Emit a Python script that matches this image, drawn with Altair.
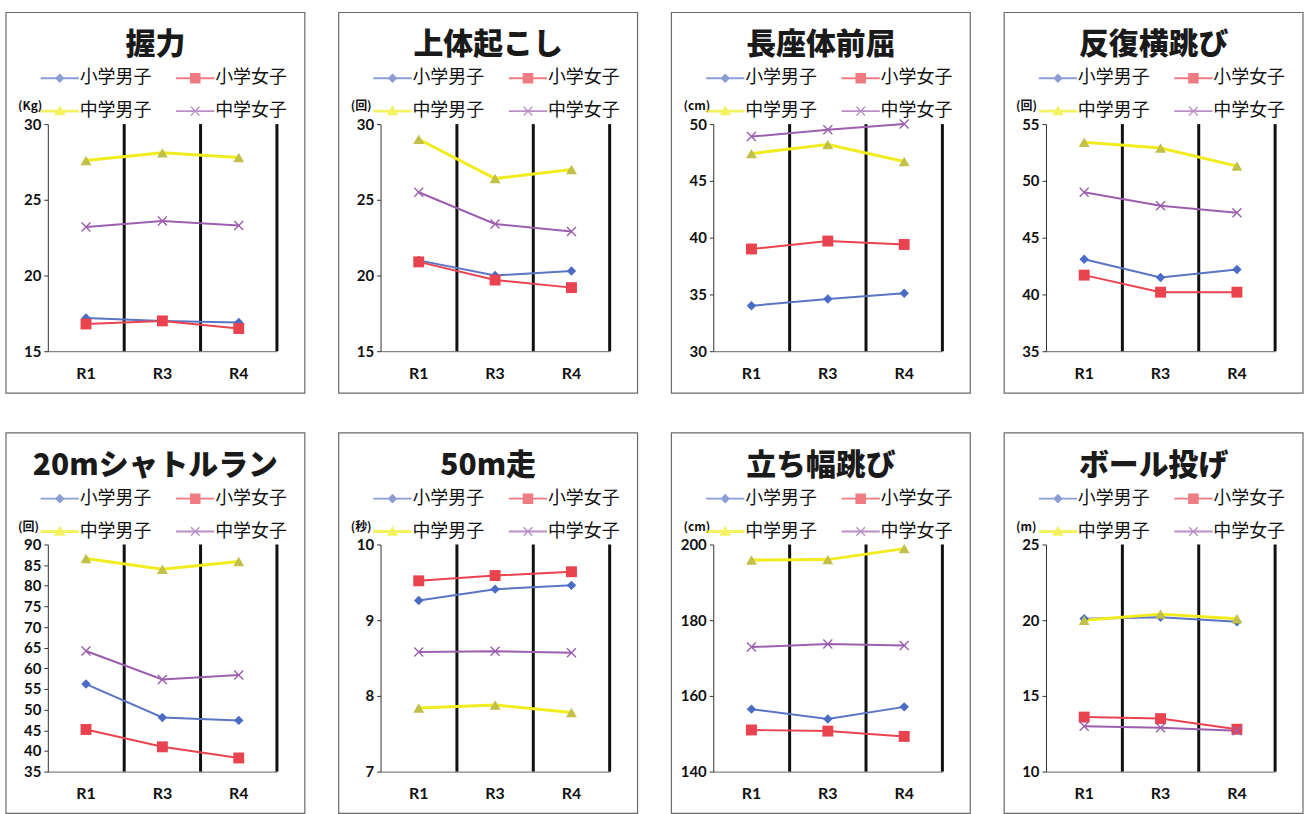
import altair as alt
import pandas as pd

# Rounds on the x axis and the four groups compared in every panel
rounds = ["R1", "R3", "R4"]
series = ["小学男子", "小学女子", "中学男子", "中学女子"]

# One entry per panel
titles = ["握力", "上体起こし", "長座体前屈", "反復横跳び",
          "20mシャトルラン", "50m走", "立ち幅跳び", "ボール投げ"]
units = ["(Kg)", "(回)", "(cm)", "(回)", "(回)", "(秒)", "(cm)", "(m)"]
y_domains = [[15, 30], [15, 30], [30, 50], [35, 55],
             [35, 90], [7, 10], [140, 200], [10, 25]]
y_ticks = [
    [15, 20, 25, 30],
    [15, 20, 25, 30],
    [30, 35, 40, 45, 50],
    [35, 40, 45, 50, 55],
    [35, 40, 45, 50, 55, 60, 65, 70, 75, 80, 85, 90],
    [7, 8, 9, 10],
    [140, 160, 180, 200],
    [10, 15, 20, 25],
]

# Values per group, one [R1, R3, R4] list per panel
elem_boys = [
    [17.2, 17.0, 16.9], [21.0, 20.0, 20.3], [34.0, 34.6, 35.1], [43.1, 41.5, 42.2],
    [56.2, 48.1, 47.4], [9.26, 9.41, 9.46], [156.5, 153.9, 157.1], [20.1, 20.2, 19.9],
]
elem_girls = [
    [16.8, 17.0, 16.5], [20.9, 19.7, 19.2], [39.0, 39.7, 39.4], [41.7, 40.2, 40.2],
    [45.2, 41.0, 38.3], [9.52, 9.59, 9.64], [151.0, 150.7, 149.3], [13.6, 13.5, 12.8],
]
junior_boys = [
    [27.6, 28.1, 27.8], [29.0, 26.4, 27.0], [47.4, 48.2, 46.7], [53.4, 52.9, 51.3],
    [86.6, 84.0, 85.9], [7.84, 7.88, 7.78], [195.9, 196.0, 198.9], [20.0, 20.4, 20.1],
]
junior_girls = [
    [23.2, 23.6, 23.3], [25.5, 23.4, 22.9], [48.9, 49.5, 50.0], [49.0, 47.8, 47.2],
    [64.2, 57.3, 58.4], [8.58, 8.59, 8.57], [172.9, 173.7, 173.3], [13.0, 12.9, 12.7],
]
group_values = [elem_boys, elem_girls, junior_boys, junior_girls]

# Styling of each group
line_colors = ["#5b74c4", "#e8434f", "#f0ec1e", "#9c5fae"]
marker_colors = ["#4a6cc4", "#e8434f", "#c2c049", "#9c5fae"]
line_widths = [2, 2, 3, 2]
x_mark = ("M-1,-0.8L-0.8,-1L0,-0.2L0.8,-1L1,-0.8L0.2,0L1,0.8L0.8,1"
          "L0,0.2L-0.8,1L-1,0.8L-0.2,0Z")
marker_shapes = ["diamond", "square", "triangle-up", x_mark]
marker_sizes = [90, 120, 120, 100]

# Legend symbols: a short line with the marker in the middle
def bar(h):
    return f"M-1.2,-{h}H1.2V{h}H-1.2Z"

legend_paths = [
    bar(0.06) + "M0,-0.3L0.3,0L0,0.3L-0.3,0Z",
    bar(0.06) + "M-0.33,-0.33H0.33V0.33H-0.33Z",
    bar(0.09) + "M0,-0.36L0.36,0.26L-0.36,0.26Z",
    bar(0.06) + "M-0.3,-0.24L-0.24,-0.3L0,-0.06L0.24,-0.3L0.3,-0.24L0.06,0"
                "L0.3,0.24L0.24,0.3L0,0.06L-0.24,0.3L-0.3,0.24L-0.06,0Z",
]

W, H = 230, 228
one_row = pd.DataFrame({"k": [0]})

x_scale = alt.Scale(type="band", domain=rounds, paddingInner=0, paddingOuter=0)
x_axis = alt.Axis(labelFont="Lato", labelFontSize=16, labelFontWeight="bold",
                  labelColor="#111", labelPadding=14, labelAngle=0, ticks=False,
                  domainColor="#666", domainWidth=1, grid=False)


def x_enc(band_pos):
    return alt.X("round:N", scale=x_scale, axis=x_axis, bandPosition=band_pos, title=None)


def panel(i):
    rows = []
    for k, s in enumerate(series):
        for j, r in enumerate(rounds):
            rows.append({"round": r, "series": s, "value": group_values[k][i][j]})
    df = pd.DataFrame(rows)

    y_axis = alt.Axis(values=y_ticks[i], domainColor="#333", domainWidth=1,
                      tickColor="#333", tickSize=4, labelFont="Lato",
                      labelFontSize=15, labelFontWeight="bold", labelColor="#111",
                      labelPadding=3, grid=False)
    y_enc = alt.Y("value:Q", scale=alt.Scale(domain=y_domains[i], nice=False, zero=False),
                  axis=y_axis, title=None)

    frame = alt.Chart(one_row).mark_rect(fillOpacity=0, stroke="#6a6a6a", strokeWidth=1.2).encode(
        x=alt.value(-42), x2=alt.value(258), y=alt.value(-112), y2=alt.value(270))

    title = alt.Chart(one_row).mark_text(
        text=titles[i], font="Noto Sans CJK JP", fontSize=30, fontWeight=900,
        color="#1a1a1a", align="center", baseline="middle").encode(
        x=alt.value(108), y=alt.value(-79))

    unit = alt.Chart(one_row).mark_text(
        text=units[i], font="Noto Sans CJK JP", fontSize=12, fontWeight="bold",
        color="#111", align="left", baseline="middle").encode(
        x=alt.value(-30), y=alt.value(-18))

    dividers = alt.Chart(pd.DataFrame({"round": rounds})).mark_rule(
        color="#111", strokeWidth=3).encode(x=x_enc(1))

    layers = [frame, dividers]
    for k, s in enumerate(series):
        base = alt.Chart(df).transform_filter(alt.datum.series == s)
        layers.append(base.mark_line(color=line_colors[k], strokeWidth=line_widths[k]).encode(
            x=x_enc(0.5), y=y_enc))
    for k, s in enumerate(series):
        base = alt.Chart(df).transform_filter(alt.datum.series == s)
        layers.append(base.mark_point(shape=marker_shapes[k], filled=True, opacity=1,
                                      color=marker_colors[k], size=marker_sizes[k]).encode(
            x=x_enc(0.5), y=y_enc))

    legend = alt.Legend(orient="none", legendX=-4, legendY=-62, columns=2,
                        direction="horizontal",
                        columnPadding=24, rowPadding=8, symbolSize=1024,
                        symbolStrokeWidth=0, labelFont="Noto Sans CJK JP",
                        labelFontSize=18, labelColor="#111", labelOffset=4,
                        padding=0, title=None)
    key = alt.Chart(df).transform_filter("false").mark_point(filled=True).encode(
        color=alt.Color("series:N", scale=alt.Scale(domain=series, range=line_colors),
                        legend=legend),
        shape=alt.Shape("series:N", scale=alt.Scale(domain=series, range=legend_paths),
                        legend=legend),
    )
    layers.append(key)
    layers.extend([title, unit])
    return alt.layer(*layers).properties(width=W, height=H)


def row(idx):
    return alt.hconcat(*[panel(i) for i in idx], spacing=32).resolve_scale(
        color="independent", shape="independent").resolve_legend(
        color="independent", shape="independent")


chart = alt.vconcat(row(range(4)), row(range(4, 8)), spacing=38).resolve_scale(
    color="independent", shape="independent").resolve_legend(
    color="independent", shape="independent").properties(
    padding={"left": 5, "top": 10, "right": 0, "bottom": 0},
    background="white",
).configure_view(strokeWidth=0)

chart.save("out.html", embed_options={"renderer": "svg", "actions": False})
